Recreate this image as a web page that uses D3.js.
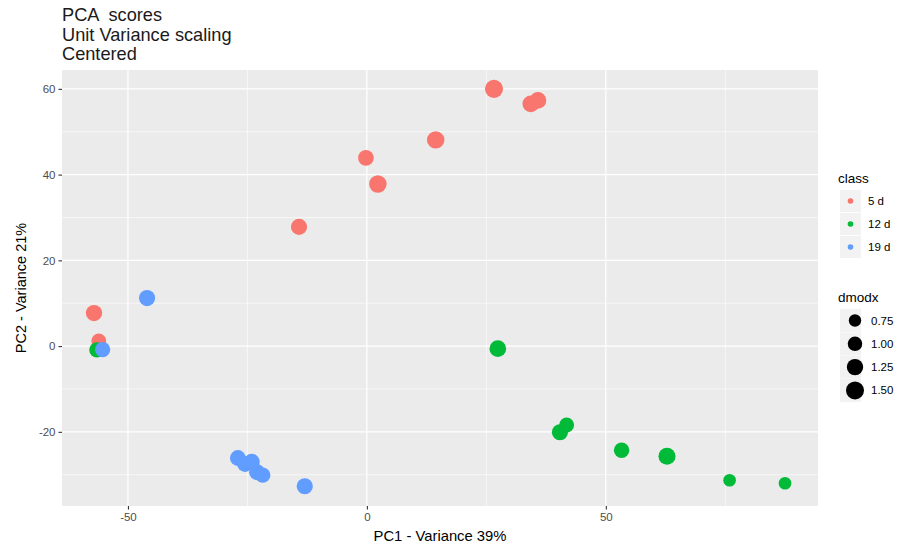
<!DOCTYPE html>
<html><head><meta charset="utf-8">
<script src="https://cdn.jsdelivr.net/npm/d3@7"></script>
<style>body{margin:0;background:#fff}svg{display:block;font-family:"Liberation Sans",Arial,sans-serif}</style>
</head><body><svg id="c" width="907" height="543"></svg>
<script>
const titleLines = ["PCA  scores", "Unit Variance scaling", "Centered"];
const classes = ["5 d", "12 d", "19 d"];
const classColors = ["#F8766D", "#00BA38", "#619CFF"];
const sizeBreaks = [0.75, 1.00, 1.25, 1.50];
const xTicks = [-50, 0, 50];
const yTicks = [-20, 0, 20, 40, 60];
const xMinor = [-25, 25, 75];
const yMinor = [-30, -10, 10, 30, 50];

const pc1_5d = [26.6, 34.3, 35.8, 14.4, -0.2, 2.3, -14.2, -57.1, -56.1];
const pc2_5d = [60.0, 56.5, 57.3, 48.1, 43.9, 37.8, 27.8, 7.7, 1.2];
const dmodx_5d = [1.52, 1.30, 1.30, 1.42, 1.15, 1.42, 1.22, 1.25, 1.05];

const pc1_12d = [-56.5, 27.4, 40.4, 41.8, 53.3, 62.8, 75.9, 87.5];
const pc2_12d = [-0.9, -0.6, -20.1, -18.4, -24.3, -25.7, -31.3, -32.0];
const dmodx_12d = [1.10, 1.30, 1.22, 1.05, 1.12, 1.35, 0.78, 0.78];

const pc1_19d = [-46.0, -55.3, -27.0, -25.5, -24.1, -23.0, -21.8, -13.0];
const pc2_19d = [11.2, -0.8, -26.1, -27.5, -27.0, -29.4, -30.1, -32.7];
const dmodx_19d = [1.22, 1.10, 1.18, 1.18, 1.22, 1.18, 1.12, 1.22];

const series = [
  {cls: 0, x: pc1_5d, y: pc2_5d, s: dmodx_5d},
  {cls: 1, x: pc1_12d, y: pc2_12d, s: dmodx_12d},
  {cls: 2, x: pc1_19d, y: pc2_19d, s: dmodx_19d}
];

const svg = d3.select("#c");
const L = 62, R = 818, T = 70, B = 506;
const x = d3.scaleLinear().domain([-63.8, 94.4]).range([L, R]);
const y = d3.scaleLinear().domain([-37.3, 64.4]).range([B, T]);
const rS = d3.scaleRadial().domain([0.75, 1.5]).range([6.2, 9.0]);

// title
svg.append("g").selectAll("text").data(titleLines).join("text")
  .attr("x", L).attr("y", (d, i) => 21 + i * 19.5)
  .attr("font-size", 18.2).attr("fill", "#1a1a1a").style("white-space", "pre")
  .text(d => d);

// panel
svg.append("rect").attr("x", L).attr("y", T).attr("width", R - L).attr("height", B - T).attr("fill", "#EBEBEB");
const grid = svg.append("g");
grid.selectAll(".mx").data(xMinor).join("line").attr("x1", d => x(d)).attr("x2", d => x(d)).attr("y1", T).attr("y2", B).attr("stroke", "#fff").attr("stroke-width", 0.6);
grid.selectAll(".my").data(yMinor).join("line").attr("y1", d => y(d)).attr("y2", d => y(d)).attr("x1", L).attr("x2", R).attr("stroke", "#fff").attr("stroke-width", 0.6);
grid.selectAll(".Mx").data(xTicks).join("line").attr("x1", d => x(d)).attr("x2", d => x(d)).attr("y1", T).attr("y2", B).attr("stroke", "#fff").attr("stroke-width", 1.2);
grid.selectAll(".My").data(yTicks).join("line").attr("y1", d => y(d)).attr("y2", d => y(d)).attr("x1", L).attr("x2", R).attr("stroke", "#fff").attr("stroke-width", 1.2);

// axes
const xa = svg.append("g").attr("transform", `translate(0,${B})`)
  .call(d3.axisBottom(x).tickValues(xTicks).tickSize(3.5).tickPadding(3).tickFormat(d3.format("d")));
const ya = svg.append("g").attr("transform", `translate(${L},0)`)
  .call(d3.axisLeft(y).tickValues(yTicks).tickSize(3.5).tickPadding(3).tickFormat(d3.format("d")));
[xa, ya].forEach(a => {
  a.select(".domain").remove();
  a.selectAll(".tick line").attr("stroke", "#333333").attr("stroke-width", 1.1);
  a.selectAll(".tick text").attr("fill", "#4D4D4D").attr("font-size", 11.5).attr("font-family", "Liberation Sans, Arial, sans-serif");
});
ya.selectAll(".tick text").text(d => d < 0 ? "-" + Math.abs(d) : d);
xa.selectAll(".tick text").text(d => d < 0 ? "-" + Math.abs(d) : d);

// axis titles
svg.append("text").attr("x", 440).attr("y", 541).attr("text-anchor", "middle").attr("font-size", 14.8).attr("fill", "#000").text("PC1 - Variance 39%");
svg.append("text").attr("transform", `translate(26,${(T + B) / 2}) rotate(-90)`).attr("text-anchor", "middle").attr("font-size", 14.5).attr("fill", "#000").text("PC2 - Variance 21%");

// points
const pts = svg.append("g");
series.forEach(sr => {
  pts.selectAll(null).data(sr.x.map((v, i) => ({x: v, y: sr.y[i], s: sr.s[i]}))).join("circle")
    .attr("cx", d => x(d.x)).attr("cy", d => y(d.y)).attr("r", d => rS(d.s))
    .attr("fill", classColors[sr.cls]);
});

// legend: class
const lg = svg.append("g");
lg.append("text").attr("x", 838).attr("y", 183).attr("font-size", 13.5).attr("fill", "#000").text("class");
const ck = lg.selectAll(".ck").data(classes).join("g").attr("transform", (d, i) => `translate(840,${190 + i * 23})`);
ck.append("rect").attr("width", 21).attr("height", 22).attr("fill", "#F2F2F2");
ck.append("circle").attr("cx", 10.5).attr("cy", 11).attr("r", 2.8).attr("fill", (d, i) => classColors[i]);
ck.append("text").attr("x", 28).attr("y", 15).attr("font-size", 11.5).attr("fill", "#000").text(d => d);

// legend: dmodx
lg.append("text").attr("x", 838).attr("y", 302).attr("font-size", 13.5).attr("fill", "#000").text("dmodx");
const sk = lg.selectAll(".sk").data(sizeBreaks).join("g").attr("transform", (d, i) => `translate(840,${309 + i * 23.3})`);
sk.append("rect").attr("width", 21).attr("height", 23).attr("fill", "#F2F2F2");
sk.append("circle").attr("cx", 15).attr("cy", 11.5).attr("r", d => rS(d)).attr("fill", "#000");
sk.append("text").attr("x", 31).attr("y", 15.5).attr("font-size", 11.5).attr("fill", "#000").text(d => d.toFixed(2));
</script></body></html>
